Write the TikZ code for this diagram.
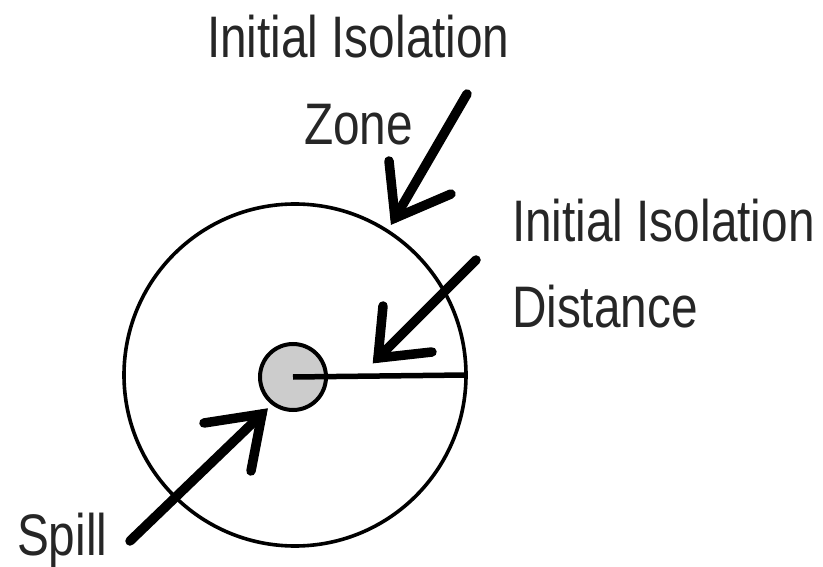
\documentclass[tikz,border=0pt]{standalone}
\usepackage{fontspec}
\newfontfamily\condfont[FakeStretch=0.815]{Liberation Sans}
\definecolor{spillgrey}{HTML}{CCCCCC}
\tikzset{
  lbl/.style={anchor=base west, inner sep=0pt, outer sep=0pt, text=black!85,
    font=\condfont\fontsize{58.6}{70}\selectfont},
  fatarrow/.style={line width=9.5pt, line cap=round, line join=miter, black},
  ring/.style={line width=3.6pt, black}
}
\begin{document}
\begin{tikzpicture}[x=1pt,y=-1pt]
\useasboundingbox (0,0) rectangle (823,567);
% circles
\node[ring, circle, minimum size=342pt, inner sep=0pt, draw] (zone) at (295,375) {};
\coordinate (rimR) at (466,375);
\node[circle, draw, line width=4pt, fill=spillgrey, minimum size=66pt, inner sep=0pt] (spill) at (293,377) {};
\draw[line width=5.5pt] (spill.center) -- (rimR);
% labels
\node[lbl] (t1) at (207,58) {Initial Isolation};
\node[lbl] (t2) at (304,145) {Zone};
\node[lbl] (t3) at (512,242) {Initial Isolation};
\node[lbl] (t4) at (512,327) {Distance};
\node[lbl] (t5) at (17,555) {Spill};
% arrow 1 (zone)
\coordinate (a1s) at (467,94);
\coordinate (a1t) at (395,218);
\coordinate (a1l) at (389,161);
\coordinate (a1r) at (451,194);
\draw[fatarrow] (a1s) -- (a1t);
\draw[fatarrow] (a1l) -- (a1t) -- (a1r);
% arrow 2 (distance)
\coordinate (a2s) at (476,260);
\coordinate (a2t) at (378,358);
\coordinate (a2l) at (383,306);
\coordinate (a2r) at (432,352);
\draw[fatarrow] (a2s) -- (a2t);
\draw[fatarrow] (a2l) -- (a2t) -- (a2r);
% arrow 3 (spill)
\coordinate (a3s) at (130,541);
\coordinate (a3t) at (262,414);
\coordinate (a3l) at (204,423);
\coordinate (a3r) at (251,471);
\draw[fatarrow] (a3s) -- (a3t);
\draw[fatarrow] (a3l) -- (a3t) -- (a3r);
\end{tikzpicture}
\end{document}
